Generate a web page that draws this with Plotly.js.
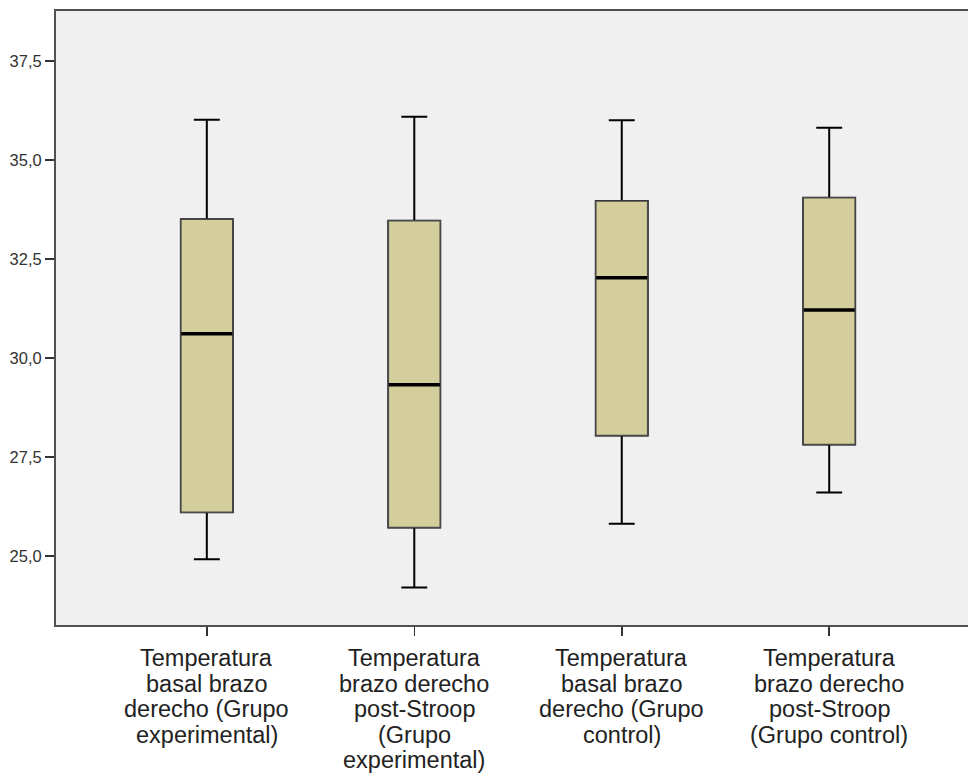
<!DOCTYPE html>
<html>
<head>
<meta charset="utf-8">
<script src="https://cdn.plot.ly/plotly-3.0.1.min.js"></script>
<style>
html, body { margin: 0; padding: 0; background: #ffffff; }
#chart { width: 968px; height: 775px; }
</style>
</head>
<body>
<div id="chart"></div>
<script>
// Category labels (one entry per box, lines split by <br>)
const categories = [
  "Temperatura<br>basal brazo<br>derecho (Grupo<br>experimental)",
  "Temperatura<br>brazo derecho<br>post-Stroop<br>(Grupo<br>experimental)",
  "Temperatura<br>basal brazo<br>derecho (Grupo<br>control)",
  "Temperatura<br>brazo derecho<br>post-Stroop<br>(Grupo control)"
];
// Box statistics (°C)
const lowerWhisker = [24.91, 24.20, 25.81, 26.60];
const q1Values     = [26.10, 25.71, 28.04, 27.81];
const medianValues = [30.61, 29.32, 32.02, 31.21];
const q3Values     = [33.50, 33.46, 33.96, 34.04];
const upperWhisker = [36.01, 36.09, 36.00, 35.81];
// Y axis ticks
const yTickVals = [25.0, 27.5, 30.0, 32.5, 35.0, 37.5];

const boxFill = "#d3ce9b";

const whiskerTrace = {
  type: "box",
  x: categories,
  q1: q1Values,
  median: medianValues,
  q3: q3Values,
  lowerfence: lowerWhisker,
  upperfence: upperWhisker,
  width: 0.25,
  whiskerwidth: 0.5,
  fillcolor: "rgba(0,0,0,0)",
  line: { color: "#000000", width: 2 },
  boxpoints: false,
  hoverinfo: "skip",
  showlegend: false
};

const boxTrace = {
  type: "box",
  x: categories,
  q1: q1Values,
  median: medianValues,
  q3: q3Values,
  lowerfence: q1Values,
  upperfence: q3Values,
  width: 0.25,
  whiskerwidth: 0,
  fillcolor: boxFill,
  line: { color: "#4a4a4a", width: 1.5 },
  boxpoints: false,
  hoverinfo: "skip",
  showlegend: false
};

const medianTrace = {
  type: "scatter",
  mode: "markers",
  x: categories,
  y: medianValues,
  marker: { symbol: "line-ew", size: 36.5, line: { color: "#000000", width: 3.5 } },
  hoverinfo: "skip",
  showlegend: false
};

// Axis labels: one annotation per line, tight line pitch like the original
const annotations = [];
const linePitch = 25.6;
categories.forEach(function (cat) {
  cat.split("<br>").forEach(function (line, i) {
    annotations.push({
      x: cat, xref: "x",
      y: 0, yref: "paper",
      yanchor: "top", xanchor: "center",
      yshift: -18 - i * linePitch,
      text: line,
      showarrow: false,
      font: { family: "Liberation Sans, Arial, sans-serif", size: 23.5, color: "#222222" }
    });
  });
});

const layout = {
  width: 968,
  height: 775,
  margin: { l: 56, r: 0, t: 11, b: 150 },
  paper_bgcolor: "#ffffff",
  plot_bgcolor: "#f0f0f0",
  separators: ",.",
  showlegend: false,
  hovermode: false,
  xaxis: {
    type: "category",
    range: [-0.727, 3.669],
    showgrid: false,
    zeroline: false,
    showline: true,
    linecolor: "#505050",
    linewidth: 2,
    mirror: true,
    ticks: "outside",
    ticklen: 9,
    tickwidth: 1.5,
    tickcolor: "#333333",
    showticklabels: false
  },
  yaxis: {
    range: [23.25, 38.76],
    tickvals: yTickVals,
    tickformat: ".1f",
    showgrid: false,
    zeroline: false,
    showline: true,
    linecolor: "#505050",
    linewidth: 2,
    ticks: "outside",
    ticklen: 9,
    tickwidth: 2,
    tickcolor: "#333333",
    tickfont: { family: "Liberation Sans, Arial, sans-serif", size: 16.5, color: "#333333" }
  },
  annotations: annotations
};

Plotly.newPlot("chart", [whiskerTrace, boxTrace, medianTrace], layout, { displayModeBar: false, staticPlot: true });
</script>
</body>
</html>
